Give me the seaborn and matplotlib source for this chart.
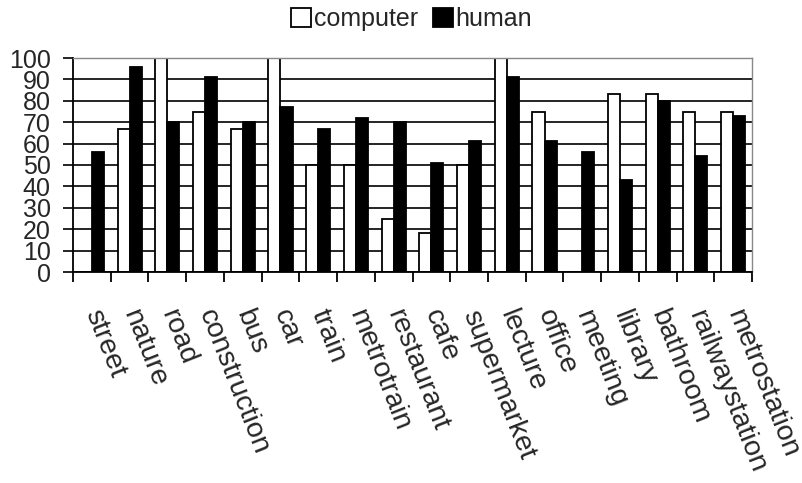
import matplotlib
matplotlib.use("Agg")
import matplotlib.pyplot as plt
import seaborn as sns
import pandas as pd
from matplotlib.patches import Patch

categories = ["street", "nature", "road", "construction", "bus", "car", "train",
              "metrotrain", "restaurant", "cafe", "supermarket", "lecture", "office",
              "meeting", "library", "bathroom", "railwaystation", "metrostation"]
computer = [0, 67, 100, 75, 67, 100, 50, 50, 25, 18, 50, 100, 75, 0, 83, 83, 75, 75]
human = [56, 96, 70, 91, 70, 77, 67, 72, 70, 51, 61, 91, 61, 56, 43, 80, 54, 73]
series = ["computer", "human"]
yticks = [0, 10, 20, 30, 40, 50, 60, 70, 80, 90, 100]

sns.set_style("white")
plt.rcParams['font.family'] = ['Liberation Sans', 'DejaVu Sans']

df = pd.DataFrame({
    "scene": categories * 2,
    "value": computer + human,
    "who": [series[0]] * len(categories) + [series[1]] * len(categories),
})

fig = plt.figure(figsize=(8.02, 4.83), dpi=100)
ax = fig.add_axes([73 / 802, 1 - 272 / 483, (752 - 73) / 802, (272 - 58) / 483])

sns.barplot(data=df, x="scene", y="value", hue="who", order=categories,
            hue_order=series, palette={"computer": "white", "human": "black"},
            width=0.64, edgecolor="black", linewidth=1.3, ax=ax, legend=False,
            saturation=1)

ax.set_axisbelow(True)
ax.set_ylim(0, 100)
ax.set_xlim(-0.5, len(categories) - 0.5)
ax.set_yticks(yticks)
ax.set_yticklabels([str(v) for v in yticks], fontsize=18)
ax.yaxis.grid(True, color="black", linewidth=1.2)
ax.xaxis.grid(False)
ax.set_xlabel("")
ax.set_ylabel("")

ax.set_xticks(range(len(categories)))
ax.set_xticklabels(categories, fontsize=20.5, rotation=-68.5, ha="left", va="center",
                   rotation_mode="anchor")
ax.set_xticks([i + 0.5 for i in range(-1, len(categories))], minor=True)
ax.tick_params(axis="x", which="major", length=0, pad=28)
ax.tick_params(axis="x", which="minor", length=7, width=1.3, color="black", bottom=True)
ax.tick_params(axis="y", which="major", length=7, width=1.2, color="black", left=True, pad=9)

for s in ["left", "bottom"]:
    ax.spines[s].set_color("black")
    ax.spines[s].set_linewidth(1.3)
ax.spines["right"].set_color("#888888")
ax.spines["right"].set_linewidth(1.0)
ax.spines["top"].set_color("#888888")
ax.spines["top"].set_linewidth(1.0)

handles = [Patch(facecolor="white", edgecolor="black", linewidth=1.3, label=series[0]),
           Patch(facecolor="black", edgecolor="black", linewidth=1.3, label=series[1])]
fig.legend(handles=handles, loc="center", bbox_to_anchor=(0.513, 0.96), ncol=2,
           frameon=False, fontsize=18, handlelength=0.8, handleheight=0.8,
           handletextpad=0.1, columnspacing=0.6)

fig.savefig("out.png", dpi=100)
